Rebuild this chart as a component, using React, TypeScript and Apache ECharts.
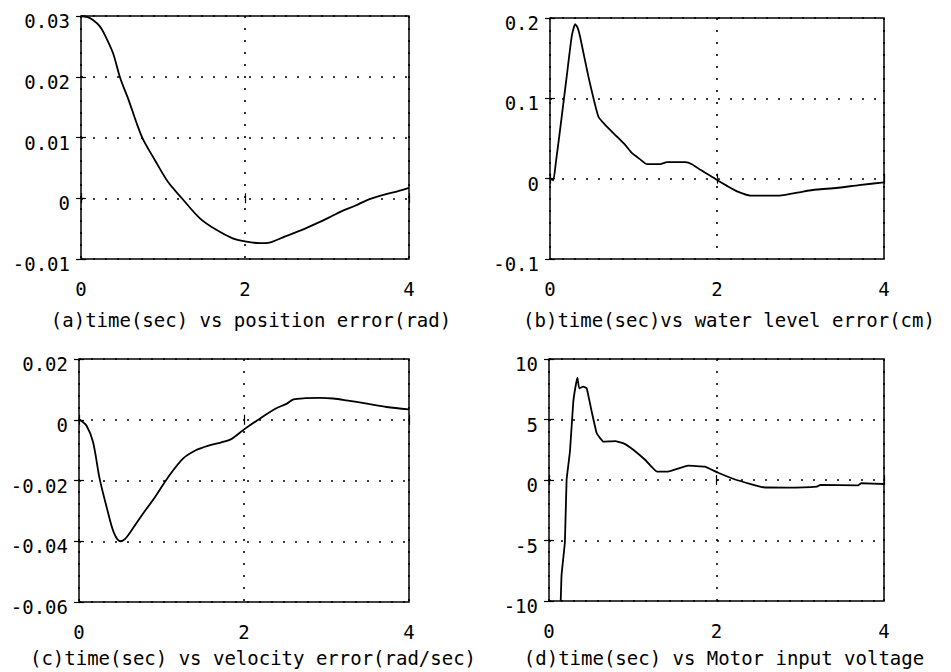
import React, { useEffect, useRef } from "react";
import * as echarts from "echarts";

// (a) position error (rad)
const T_A = [0, 0.08, 0.15, 0.23, 0.29, 0.39, 0.48, 0.58, 0.68, 0.76, 0.9, 1.06, 1.23, 1.45, 1.65, 1.85, 2.0, 2.18, 2.3, 2.47, 2.68, 2.88, 3.05, 3.2, 3.35, 3.49, 3.7, 3.85, 4.0];
const POS_ERR = [0.03, 0.0298, 0.0293, 0.0283, 0.0269, 0.0239, 0.0197, 0.0162, 0.0123, 0.0096, 0.0063, 0.0027, 0, -0.0033, -0.0052, -0.0066, -0.0071, -0.0074, -0.0073, -0.0064, -0.0053, -0.0041, -0.003, -0.002, -0.0012, -0.0003, 0.0006, 0.0011, 0.0017];

// (b) water level error (cm)
const T_B = [0, 0.04, 0.07, 0.1, 0.14, 0.2, 0.26, 0.3, 0.33, 0.36, 0.46, 0.58, 0.66, 0.8, 0.9, 0.98, 1.08, 1.16, 1.32, 1.4, 1.62, 1.7, 1.8, 1.9, 2.02, 2.12, 2.24, 2.4, 2.6, 2.75, 3.03, 3.2, 3.43, 3.7, 4.0];
const LEVEL_ERR = [0, -0.002, 0.02, 0.044, 0.077, 0.127, 0.177, 0.1925, 0.188, 0.177, 0.127, 0.077, 0.067, 0.0525, 0.042, 0.032, 0.024, 0.018, 0.018, 0.0205, 0.0205, 0.018, 0.011, 0.005, -0.003, -0.009, -0.0158, -0.021, -0.021, -0.021, -0.016, -0.0135, -0.0116, -0.008, -0.0046];

// (c) velocity error (rad/sec)
const T_C = [0, 0.02, 0.09, 0.17, 0.25, 0.34, 0.42, 0.5, 0.56, 0.66, 0.76, 0.92, 1.08, 1.26, 1.41, 1.57, 1.72, 1.85, 2.01, 2.2, 2.38, 2.52, 2.6, 2.75, 2.92, 3.08, 3.24, 3.49, 3.73, 4.0];
const VEL_ERR = [0, -0.0002, -0.0019, -0.0073, -0.0194, -0.0293, -0.037, -0.04, -0.0392, -0.0355, -0.0315, -0.0255, -0.0189, -0.0128, -0.0101, -0.0085, -0.0075, -0.0063, -0.003, 0.0005, 0.0036, 0.0053, 0.0067, 0.0071, 0.0072, 0.007, 0.0064, 0.0053, 0.0042, 0.0034];

// (d) motor input voltage
const T_D = [0.14, 0.15, 0.19, 0.21, 0.25, 0.29, 0.32, 0.34, 0.36, 0.41, 0.45, 0.51, 0.57, 0.65, 0.79, 0.89, 1.01, 1.15, 1.29, 1.42, 1.66, 1.86, 2.02, 2.24, 2.56, 2.84, 3.2, 3.24, 3.69, 3.73, 4.0];
const VOLTAGE = [-10, -7.85, -5.1, 0, 2.34, 6.47, 7.85, 8.46, 7.58, 7.71, 7.58, 5.65, 3.86, 3.17, 3.22, 3.03, 2.48, 1.65, 0.69, 0.69, 1.18, 1.1, 0.6, 0, -0.6, -0.63, -0.55, -0.4, -0.44, -0.27, -0.33];

const X_MIN = 0;
const X_MAX = 4;
const X_STEP = 2;

const CAPTIONS = [
  "(a)time(sec) vs position error(rad)",
  "(b)time(sec)vs water level error(cm)",
  "(c)time(sec) vs velocity error(rad/sec)",
  "(d)time(sec) vs Motor input voltage",
];

const Y_RANGES = [
  { min: -0.01, max: 0.03, interval: 0.01 },
  { min: -0.1, max: 0.2, interval: 0.1 },
  { min: -0.06, max: 0.02, interval: 0.02 },
  { min: -10, max: 10, interval: 5 },
];

const PANELS = [
  { t: T_A, v: POS_ERR, smooth: 0.3 },
  { t: T_B, v: LEVEL_ERR, smooth: 0.15 },
  { t: T_C, v: VEL_ERR, smooth: 0.3 },
  { t: T_D, v: VOLTAGE, smooth: 0.1 },
];

const GRIDS = [
  { left: 81, top: 16, width: 328, height: 243 },
  { left: 550, top: 18, width: 334, height: 241 },
  { left: 79, top: 359, width: 330, height: 243 },
  { left: 549, top: 359, width: 335, height: 242 },
];

const CAPTION_POS = [
  { x: 251, y: 320 },
  { x: 729, y: 320 },
  { x: 253, y: 658 },
  { x: 724, y: 658 },
];

const FONT = "'DejaVu Sans Mono', monospace";

export default function App() {
  const ref = useRef<HTMLDivElement>(null);

  useEffect(() => {
    if (!ref.current) return;
    const chart = echarts.init(ref.current, null, { renderer: "svg" });

    const fmt = (v: number) => String(parseFloat(v.toPrecision(6)));
    const xAxis: any[] = [];
    const yAxis: any[] = [];
    const series: any[] = [];

    GRIDS.forEach((_, i) => {
      xAxis.push({
        type: "value",
        gridIndex: i,
        min: X_MIN,
        max: X_MAX,
        interval: X_STEP,
        axisLine: { show: false },
        axisTick: { show: true, inside: true, length: 5, lineStyle: { color: "#000", width: 1.2 } },
        axisLabel: { color: "#000", fontFamily: FONT, fontSize: 19, margin: 20, formatter: fmt },
        splitLine: { show: true, lineStyle: { color: "#000", type: [2, 10], width: 1.6 } },
      });
      xAxis.push({
        type: "value",
        gridIndex: i,
        position: "top",
        min: X_MIN,
        max: X_MAX,
        interval: X_STEP,
        axisLine: { show: false },
        axisTick: { show: true, inside: true, length: 5, lineStyle: { color: "#000", width: 1.2 } },
        axisLabel: { show: false },
        splitLine: { show: false },
      });
      const r = Y_RANGES[i];
      yAxis.push({
        type: "value",
        gridIndex: i,
        min: r.min,
        max: r.max,
        interval: r.interval,
        axisLine: { show: false },
        axisTick: { show: true, inside: true, length: 5, lineStyle: { color: "#000", width: 1.2 } },
        axisLabel: {
          color: "#000",
          fontFamily: FONT,
          fontSize: 19,
          margin: 11,
          verticalAlign: "top",
          lineHeight: 10,
          formatter: fmt,
        },
        splitLine: { show: true, lineStyle: { color: "#000", type: [2, 10], width: 1.6 } },
      });
      yAxis.push({
        type: "value",
        gridIndex: i,
        position: "right",
        min: r.min,
        max: r.max,
        interval: r.interval,
        axisLine: { show: false },
        axisTick: { show: true, inside: true, length: 5, lineStyle: { color: "#000", width: 1.2 } },
        axisLabel: { show: false },
        splitLine: { show: false },
      });
      const p = PANELS[i];
      series.push({
        type: "line",
        xAxisIndex: i * 2,
        yAxisIndex: i * 2,
        data: p.t.map((t, k) => [t, p.v[k]]),
        showSymbol: false,
        smooth: p.smooth,
        clip: true,
        lineStyle: { color: "#000", width: 1.8 },
      });
    });

    chart.setOption({
      animation: false,
      backgroundColor: "#fff",
      grid: GRIDS.map((g) => ({
        ...g,
        show: true,
        borderColor: "#000",
        borderWidth: 1.5,
        backgroundColor: "transparent",
        containLabel: false,
      })),
      xAxis,
      yAxis,
      series,
      graphic: CAPTIONS.map((c, i) => ({
        type: "text",
        x: CAPTION_POS[i].x,
        y: CAPTION_POS[i].y,
        style: {
          text: c,
          fill: "#000",
          font: `19px ${FONT}`,
          textAlign: "center",
          textVerticalAlign: "middle",
        },
      })),
    });

    return () => chart.dispose();
  }, []);

  return (
    <div
      ref={ref}
      style={{ position: "absolute", left: 0, top: 0, width: 951, height: 672 }}
    />
  );
}
